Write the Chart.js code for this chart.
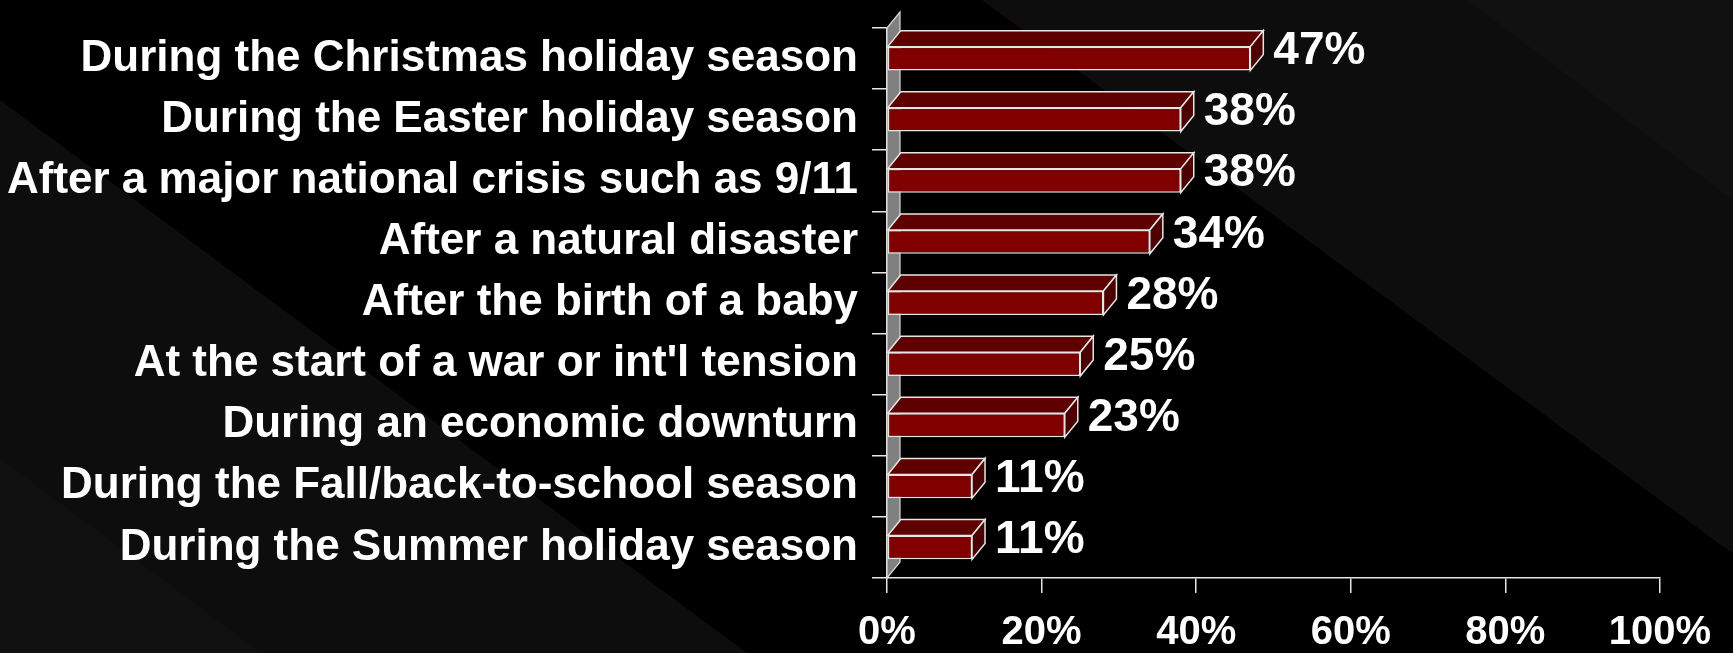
<!DOCTYPE html>
<html lang="en">
<head>
    <meta charset="UTF-8">
    <title>When people are most likely to give</title>
    <script src="https://cdn.jsdelivr.net/npm/chart.js"></script>
    <style>
        html, body {
            margin: 0;
            padding: 0;
            background: #000;
        }
        #chart {
            display: block;
        }
    </style>
</head>
<body>
    <canvas id="chart" width="1733" height="653"></canvas>

    <script>
        const categories = [
            'During the Christmas holiday season',
            'During the Easter holiday season',
            'After a major national crisis such as 9/11',
            'After a natural disaster',
            'After the birth of a baby',
            "At the start of a war or int'l tension",
            'During an economic downturn',
            'During the Fall/back-to-school season',
            'During the Summer holiday season'
        ];
        const values = [47, 38, 38, 34, 28, 25, 23, 11, 11];
        const xTickValues = [0, 20, 40, 60, 80, 100];

        // fake 3D depth of the bars and back wall
        const DEPTH_X = 13;
        const DEPTH_Y = 16;
        const FONT = "'Liberation Sans', Arial, sans-serif";

        Chart.defaults.font.family = FONT;

        function poly(ctx, pts, fill, stroke) {
            ctx.beginPath();
            ctx.moveTo(pts[0][0], pts[0][1]);
            for (let i = 1; i < pts.length; i++) ctx.lineTo(pts[i][0], pts[i][1]);
            ctx.closePath();
            if (fill) {
                ctx.fillStyle = fill;
                ctx.fill();
            }
            if (stroke) {
                ctx.strokeStyle = stroke;
                ctx.stroke();
            }
        }

        // slide background with the diagonal bands
        const backdrop = {
            id: 'backdrop',
            beforeDraw(chart) {
                const ctx = chart.ctx;
                const w = chart.width, h = chart.height;
                ctx.save();
                ctx.fillStyle = '#000';
                ctx.fillRect(0, 0, w, h);
                poly(ctx, [[0, 100], [747, h], [0, h]], '#0d0d0d');
                poly(ctx, [[0, 458], [261, h], [0, h]], '#101010');
                poly(ctx, [[982, 0], [w, 0], [w, 554]], '#0d0d0d');
                poly(ctx, [[1467, 0], [w, 0], [w, 200]], '#111111');
                ctx.restore();
            }
        };

        // grey side wall behind the bars
        const wall = {
            id: 'wall',
            beforeDatasetsDraw(chart) {
                const ctx = chart.ctx;
                const a = chart.chartArea;
                ctx.save();
                ctx.lineWidth = 1.2;
                poly(ctx, [
                    [a.left, a.top],
                    [a.left + DEPTH_X, a.top - DEPTH_Y],
                    [a.left + DEPTH_X, a.bottom - DEPTH_Y],
                    [a.left, a.bottom]
                ], '#808080', '#d8d8d8');
                ctx.restore();
            }
        };

        // top and end faces of each bar, then the value labels
        const bars3d = {
            id: 'bars3d',
            afterDatasetsDraw(chart) {
                const ctx = chart.ctx;
                const meta = chart.getDatasetMeta(0);
                ctx.save();
                ctx.lineWidth = 1.5;
                meta.data.forEach((bar, i) => {
                    const p = bar.getProps(['x', 'y', 'base', 'height'], true);
                    const top = p.y - p.height / 2;
                    const bottom = p.y + p.height / 2;
                    poly(ctx, [
                        [p.base, top],
                        [p.x, top],
                        [p.x + DEPTH_X, top - DEPTH_Y],
                        [p.base + DEPTH_X, top - DEPTH_Y]
                    ], '#5e0000', '#e6e6e6');
                    poly(ctx, [
                        [p.x, top],
                        [p.x + DEPTH_X, top - DEPTH_Y],
                        [p.x + DEPTH_X, bottom - DEPTH_Y],
                        [p.x, bottom]
                    ], '#4c0000', '#e6e6e6');

                    ctx.fillStyle = '#ffffff';
                    ctx.font = 'bold 46px ' + FONT;
                    ctx.textAlign = 'left';
                    ctx.textBaseline = 'middle';
                    ctx.fillText(values[i] + '%', p.x + DEPTH_X + 10, p.y - DEPTH_Y / 2 + 1);
                });
                ctx.restore();
            }
        };

        new Chart(document.getElementById('chart'), {
            type: 'bar',
            data: {
                labels: categories,
                datasets: [{
                    data: values,
                    backgroundColor: '#800000',
                    borderColor: '#e6e6e6',
                    borderWidth: 1.5,
                    borderSkipped: false,
                    categoryPercentage: 1,
                    barPercentage: 0.39
                }]
            },
            options: {
                indexAxis: 'y',
                responsive: false,
                animation: false,
                layout: {
                    padding: { top: 28, right: 73, left: 0, bottom: 0 }
                },
                plugins: {
                    legend: { display: false },
                    tooltip: { enabled: false }
                },
                scales: {
                    x: {
                        min: 0,
                        max: 100,
                        afterBuildTicks: scale => {
                            scale.ticks = xTickValues.map(v => ({ value: v }));
                        },
                        afterFit: scale => {
                            scale.height = 75;
                        },
                        grid: {
                            drawOnChartArea: false,
                            drawTicks: true,
                            tickLength: 15,
                            color: '#e6e6e6',
                            lineWidth: 1.5
                        },
                        border: {
                            display: true,
                            color: '#e6e6e6',
                            width: 1.5
                        },
                        ticks: {
                            color: '#ffffff',
                            padding: 20,
                            font: { size: 40, weight: 'bold', lineHeight: 1 },
                            callback: v => v + '%'
                        }
                    },
                    y: {
                        afterFit: scale => {
                            scale.width = 887;
                            // labels sit mid-category, no overhang needed
                            scale.paddingTop = 0;
                            scale.paddingBottom = 0;
                        },
                        grid: {
                            drawOnChartArea: false,
                            drawTicks: true,
                            tickLength: 15,
                            color: '#e6e6e6',
                            lineWidth: 1.5
                        },
                        border: {
                            display: true,
                            color: '#e6e6e6',
                            width: 1.5
                        },
                        ticks: {
                            color: '#ffffff',
                            padding: 14,
                            font: { size: 44, weight: 'bold' }
                        }
                    }
                }
            },
            plugins: [backdrop, wall, bars3d]
        });
    </script>
</body>
</html>
